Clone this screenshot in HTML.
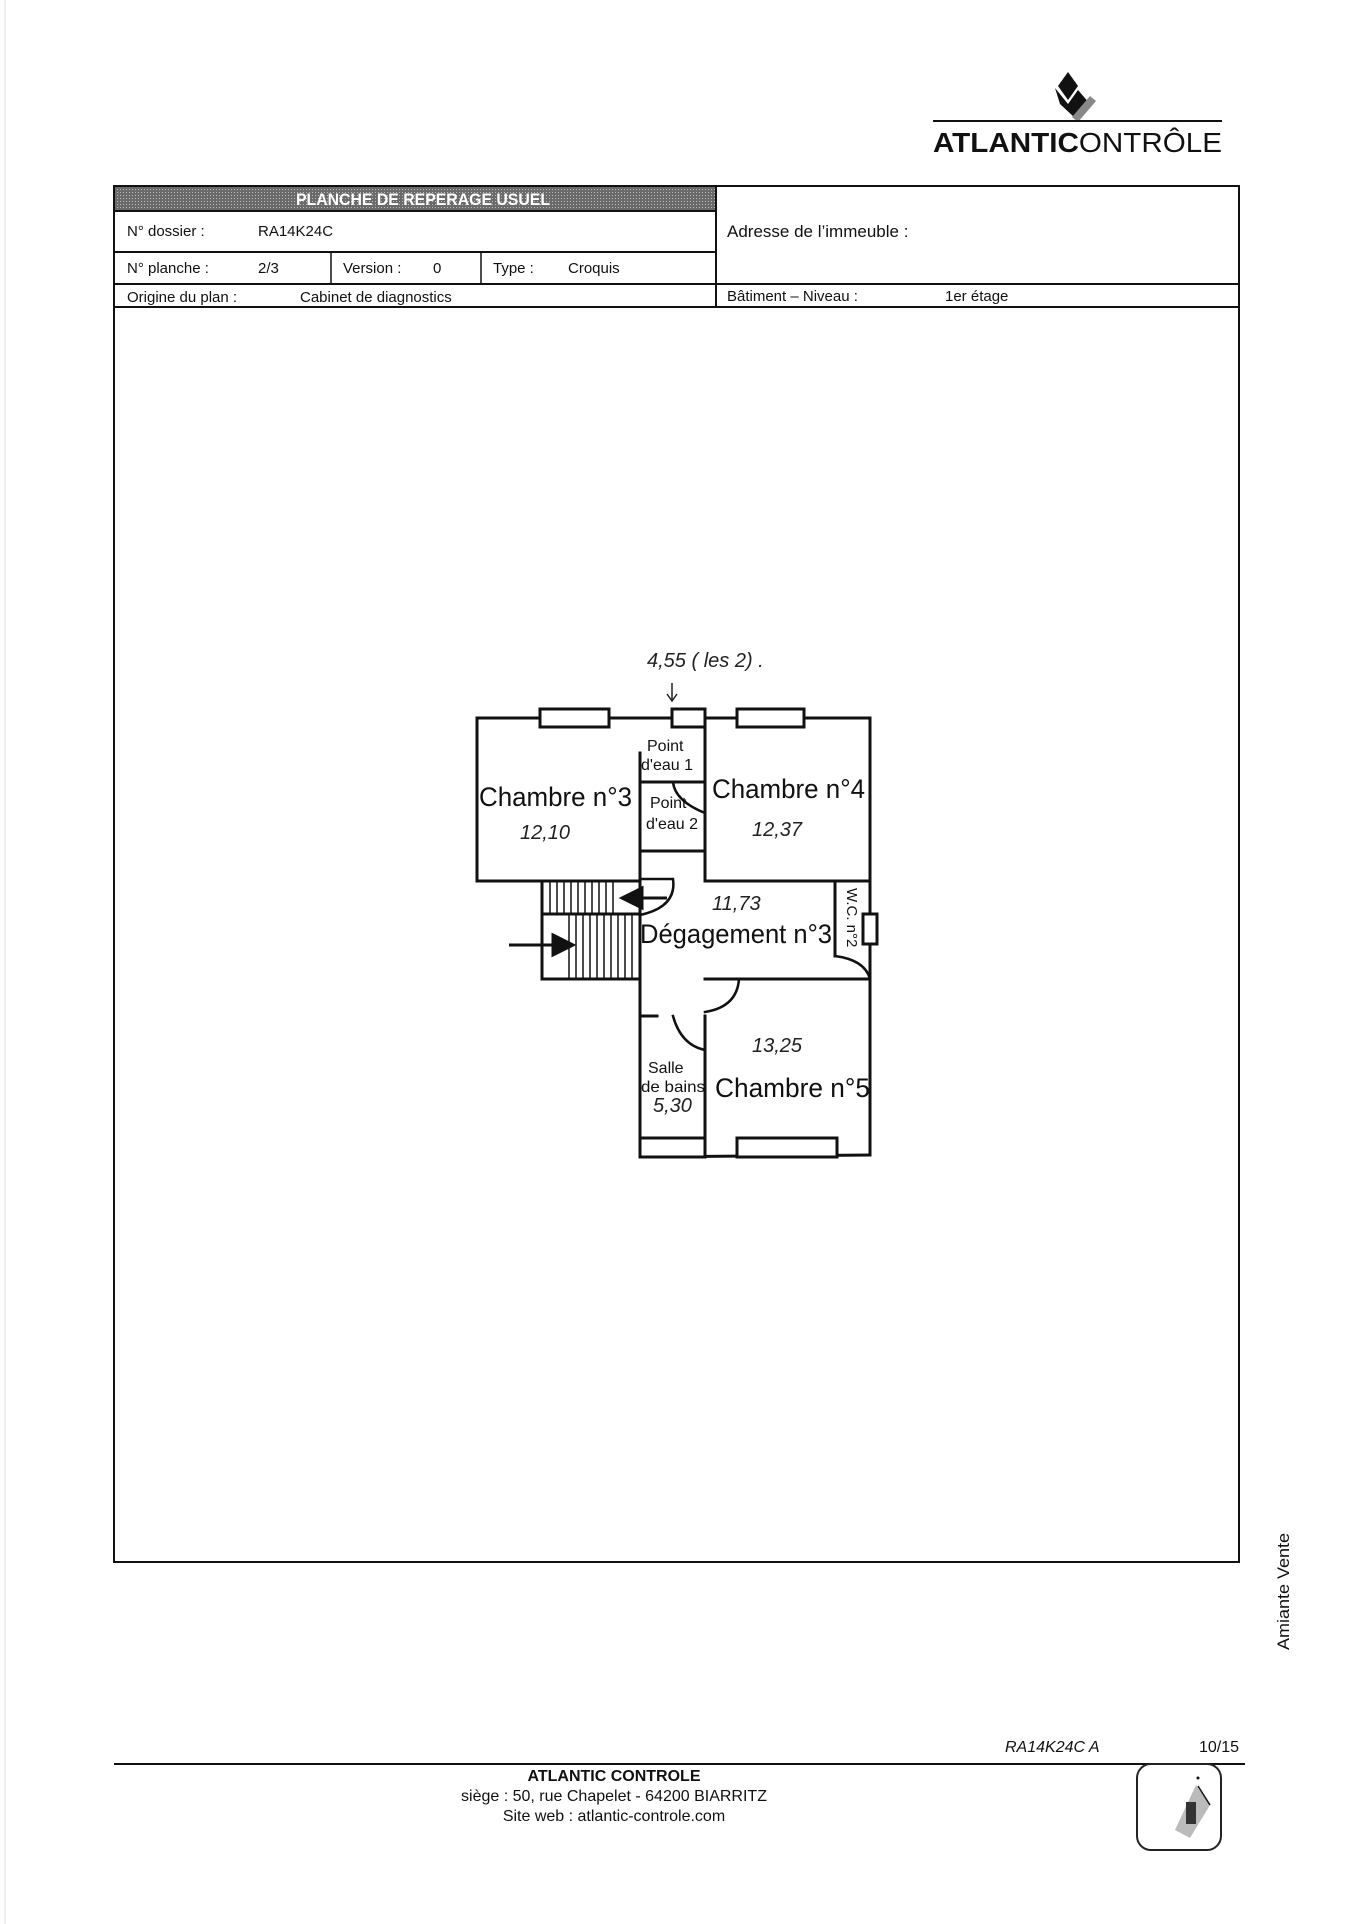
<!DOCTYPE html>
<html><head><meta charset="utf-8"><style>
html,body{margin:0;padding:0;background:#fff}
svg{display:block}
text{font-family:"Liberation Sans",Arial,sans-serif}
.hw{font-family:"Liberation Serif",serif;font-style:italic}
</style></head><body>
<svg width="1360" height="1924" viewBox="0 0 1360 1924" xmlns="http://www.w3.org/2000/svg">
<defs>
<pattern id="dots" width="3" height="3" patternUnits="userSpaceOnUse"><rect width="3" height="3" fill="#6a6a6a"/><rect width="1" height="1" fill="#bbb"/></pattern>
</defs>
<line x1="5" y1="0" x2="5" y2="1924" stroke="#ddd" stroke-width="1"/>
<!-- Logo -->
<g>
<polygon points="1068,72 1078,86 1068,100 1058,86" fill="#111"/>
<polygon points="1055,88 1068,104 1078,90 1090,104 1075,118 1060,104" fill="#111"/>
<polygon points="1090,96 1096,101 1078,122 1072,117" fill="#888"/>
<line x1="933" y1="121" x2="1222" y2="121" stroke="#111" stroke-width="2"/>
<text x="933" y="152" font-size="28" fill="#111" textLength="289" lengthAdjust="spacingAndGlyphs"><tspan font-weight="bold">ATLANTIC</tspan>ONTRÔLE</text>
</g>
<!-- Header table -->
<g stroke="#111" fill="none">
<rect x="114" y="186" width="1125" height="1376" stroke-width="2"/>
<rect x="115" y="187" width="601" height="24" fill="url(#dots)" stroke="none"/>
<line x1="716" y1="186" x2="716" y2="307" stroke-width="2"/>
<line x1="114" y1="211" x2="716" y2="211" stroke-width="2"/>
<line x1="114" y1="252" x2="716" y2="252" stroke-width="2"/>
<line x1="114" y1="284" x2="1239" y2="284" stroke-width="2"/>
<line x1="114" y1="307" x2="1239" y2="307" stroke-width="2"/>
<line x1="331" y1="252" x2="331" y2="284" stroke-width="1.5"/>
<line x1="481" y1="252" x2="481" y2="284" stroke-width="1.5"/>
</g>
<g font-size="15" fill="#111">
<text x="296" y="205" fill="#fff" font-size="17" font-weight="bold" textLength="254" lengthAdjust="spacingAndGlyphs">PLANCHE DE REPERAGE USUEL</text>
<text x="127" y="236">N° dossier :</text><text x="258" y="236">RA14K24C</text>
<text x="127" y="273">N° planche :</text><text x="258" y="273">2/3</text>
<text x="343" y="273">Version :</text><text x="433" y="273">0</text>
<text x="493" y="273">Type :</text><text x="568" y="273">Croquis</text>
<text x="127" y="302">Origine du plan :</text><text x="300" y="302">Cabinet de diagnostics</text>
<text x="727" y="237" font-size="17">Adresse de l’immeuble :</text>
<text x="727" y="301">Bâtiment – Niveau :</text><text x="945" y="301">1er étage</text>
</g>
<!-- Floor plan -->
<g transform="translate(-3,-5)">
<g stroke="#111" stroke-width="3" fill="none" stroke-linecap="square">
<line x1="480" y1="723" x2="873" y2="723"/>
<line x1="480" y1="723" x2="480" y2="886"/>
<line x1="480" y1="886" x2="643" y2="886"/>
<line x1="643" y1="758" x2="643" y2="1162"/>
<line x1="873" y1="723" x2="873" y2="1160"/>
<line x1="708" y1="723" x2="708" y2="886"/>
<line x1="643" y1="787" x2="708" y2="787"/>
<line x1="643" y1="856" x2="708" y2="856"/>
<path d="M676,787 Q678,806 708,818" stroke-width="2.5"/>
<line x1="708" y1="886" x2="873" y2="886"/>
<rect x="545" y="886" width="98" height="98"/>
<line x1="545" y1="919" x2="643" y2="919"/>
<line x1="838" y1="886" x2="838" y2="961"/>
<path d="M838,961 Q868,965 873,984" stroke-width="2.5"/>
<rect x="866" y="919" width="14" height="30" fill="#fff"/>
<line x1="708" y1="984" x2="873" y2="984"/>
<path d="M742,984 Q740,1012 708,1017" stroke-width="2.5"/>
<line x1="643" y1="1021" x2="660" y2="1021"/>
<line x1="708" y1="1021" x2="708" y2="1162"/>
<path d="M676,1021 Q684,1050 708,1055" stroke-width="2.5"/>
<line x1="643" y1="1162" x2="873" y2="1160"/>
<path d="M643,884 L676,884 Q680,912 643,920" stroke-width="2.5"/>
</g>
<g stroke="#111" stroke-width="3" fill="#fff">
<rect x="543" y="714" width="69" height="18"/>
<rect x="675" y="714" width="33" height="18"/>
<rect x="740" y="714" width="67" height="18"/>
<rect x="643" y="1143" width="65" height="19"/>
<rect x="740" y="1143" width="100" height="19"/>
</g>
<g stroke="#111" stroke-width="1.5">
<line x1="553" y1="886" x2="553" y2="919"/><line x1="560" y1="886" x2="560" y2="919"/><line x1="567" y1="886" x2="567" y2="919"/><line x1="574" y1="886" x2="574" y2="919"/><line x1="581" y1="886" x2="581" y2="919"/><line x1="588" y1="886" x2="588" y2="919"/><line x1="595" y1="886" x2="595" y2="919"/><line x1="602" y1="886" x2="602" y2="919"/><line x1="609" y1="886" x2="609" y2="919"/><line x1="616" y1="886" x2="616" y2="919"/>
<line x1="572" y1="919" x2="572" y2="984"/><line x1="579" y1="919" x2="579" y2="984"/><line x1="586" y1="919" x2="586" y2="984"/><line x1="593" y1="919" x2="593" y2="984"/><line x1="600" y1="919" x2="600" y2="984"/><line x1="607" y1="919" x2="607" y2="984"/><line x1="614" y1="919" x2="614" y2="984"/><line x1="621" y1="919" x2="621" y2="984"/><line x1="628" y1="919" x2="628" y2="984"/><line x1="635" y1="919" x2="635" y2="984"/>
</g>
<g stroke="#111" stroke-width="3" fill="#111">
<line x1="512" y1="950" x2="560" y2="950"/>
<polygon points="556,940 576,950 556,960"/>
<line x1="640" y1="903" x2="670" y2="903"/>
<polygon points="645,893 625,903 645,913"/>
</g>
<g fill="#111">
<text x="482" y="811" font-size="27" textLength="153" lengthAdjust="spacingAndGlyphs">Chambre n°3</text>
<text x="715" y="803" font-size="27" textLength="153" lengthAdjust="spacingAndGlyphs">Chambre n°4</text>
<text x="718" y="1102" font-size="27" textLength="155" lengthAdjust="spacingAndGlyphs">Chambre n°5</text>
<text x="643" y="948" font-size="27" textLength="192" lengthAdjust="spacingAndGlyphs">Dégagement n°3</text>
<text x="650" y="756" font-size="16">Point</text>
<text x="644" y="775" font-size="16">d'eau 1</text>
<text x="653" y="813" font-size="16">Point</text>
<text x="649" y="834" font-size="16">d'eau 2</text>
<text x="651" y="1078" font-size="16">Salle</text>
<text x="644" y="1097" font-size="16" textLength="64" lengthAdjust="spacingAndGlyphs">de bains</text>
<text x="0" y="0" font-size="15" transform="translate(850,893) rotate(90)">W.C. n°2</text>
</g>
<g class="hw" fill="#222" font-size="20">
<text x="650" y="672">4,55 ( les 2) .</text>
<text x="523" y="844">12,10</text>
<text x="755" y="841">12,37</text>
<text x="715" y="915">11,73</text>
<text x="755" y="1057">13,25</text>
<text x="656" y="1117">5,30</text>
</g>
<g stroke="#222" stroke-width="1.5" fill="none"><line x1="675" y1="688" x2="675" y2="705"/><path d="M670,699 L675,706 L680,699"/></g>
</g>
<!-- side text -->
<text x="0" y="0" font-size="17" fill="#111" transform="translate(1289,1650) rotate(-90)" textLength="117" lengthAdjust="spacingAndGlyphs">Amiante Vente</text>
<!-- footer -->
<line x1="114" y1="1764" x2="1245" y2="1764" stroke="#111" stroke-width="2"/>
<text x="1005" y="1752" font-size="16" font-style="italic" fill="#111">RA14K24C A</text>
<text x="1199" y="1752" font-size="16" fill="#111">10/15</text>
<g fill="#111" text-anchor="middle">
<text x="614" y="1781" font-size="16" font-weight="bold">ATLANTIC CONTROLE</text>
<text x="614" y="1801" font-size="16">siège : 50, rue Chapelet - 64200 BIARRITZ</text>
<text x="614" y="1821" font-size="16">Site web : atlantic-controle.com</text>
</g>
<rect x="1137" y="1764" width="84" height="86" rx="14" fill="none" stroke="#222" stroke-width="2"/>
<polygon points="1196,1785 1210,1805 1190,1838 1175,1830" fill="#bbb"/>
<rect x="1186" y="1802" width="10" height="22" fill="#333"/>
<circle cx="1198" cy="1778" r="1.5" fill="#111"/>
<line x1="1198" y1="1786" x2="1210" y2="1805" stroke="#111" stroke-width="1.5"/>
</svg>
</body></html>
